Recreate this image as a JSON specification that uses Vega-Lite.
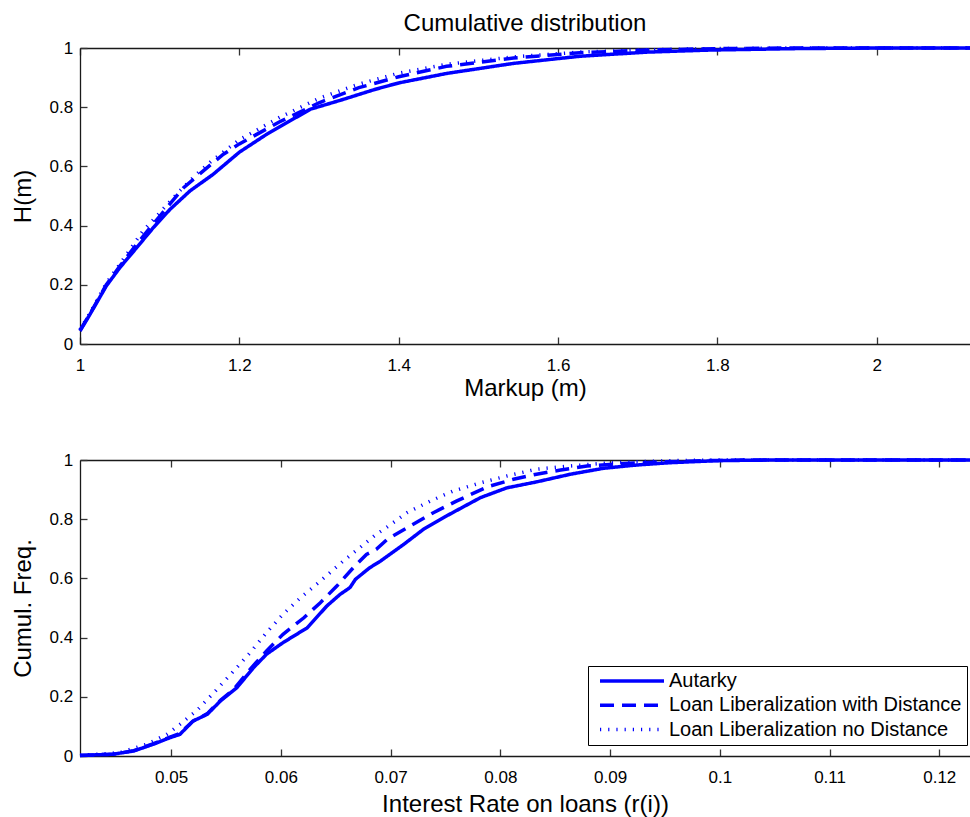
{
  "$schema": "https://vega.github.io/schema/vega-lite/v6.json",
  "autosize": {"type": "pad"},
  "padding": {"left": 11, "top": 12, "right": 0, "bottom": 2},
  "background": "white",
  "config": {
    "font": "Liberation Sans",
    "view": {"stroke": null},
    "axis": {
      "labelFont": "Liberation Sans", "labelFontSize": 17, "labelColor": "black",
      "titleFont": "Liberation Sans", "titleFontSize": 24, "titleFontWeight": "normal", "titleColor": "black",
      "domainColor": "#1a1a1a", "domainWidth": 1.3, "tickColor": "#333333", "tickWidth": 1.3, "tickSize": -7,
      "grid": false, "labelFlush": false, "labelOverlap": false
    },
    "axisX": {"labelPadding": 20, "titlePadding": 7},
    "axisY": {"labelPadding": 14.3, "titlePadding": 14},
    "legend": {"labelFont": "Liberation Sans"}
  },
  "datasets": {
    "top": [
      {"series": "Autarky", "x": 1.0, "y": 0.044},
      {"series": "Autarky", "x": 1.0125, "y": 0.100},
      {"series": "Autarky", "x": 1.033, "y": 0.196},
      {"series": "Autarky", "x": 1.05, "y": 0.258},
      {"series": "Autarky", "x": 1.071, "y": 0.325},
      {"series": "Autarky", "x": 1.092, "y": 0.393},
      {"series": "Autarky", "x": 1.113, "y": 0.455},
      {"series": "Autarky", "x": 1.138, "y": 0.517},
      {"series": "Autarky", "x": 1.167, "y": 0.573},
      {"series": "Autarky", "x": 1.2, "y": 0.648},
      {"series": "Autarky", "x": 1.234, "y": 0.708},
      {"series": "Autarky", "x": 1.289, "y": 0.793},
      {"series": "Autarky", "x": 1.33, "y": 0.826},
      {"series": "Autarky", "x": 1.37, "y": 0.860},
      {"series": "Autarky", "x": 1.4, "y": 0.882},
      {"series": "Autarky", "x": 1.46, "y": 0.914},
      {"series": "Autarky", "x": 1.544, "y": 0.948},
      {"series": "Autarky", "x": 1.627, "y": 0.972},
      {"series": "Autarky", "x": 1.711, "y": 0.986},
      {"series": "Autarky", "x": 1.79, "y": 0.993},
      {"series": "Autarky", "x": 1.9, "y": 0.998},
      {"series": "Autarky", "x": 2.0, "y": 1.0},
      {"series": "Autarky", "x": 2.117, "y": 1.0},
      {"series": "Loan Liberalization with Distance", "x": 1.0, "y": 0.046},
      {"series": "Loan Liberalization with Distance", "x": 1.0125, "y": 0.102},
      {"series": "Loan Liberalization with Distance", "x": 1.033, "y": 0.200},
      {"series": "Loan Liberalization with Distance", "x": 1.05, "y": 0.263},
      {"series": "Loan Liberalization with Distance", "x": 1.071, "y": 0.337},
      {"series": "Loan Liberalization with Distance", "x": 1.09, "y": 0.399},
      {"series": "Loan Liberalization with Distance", "x": 1.109, "y": 0.461},
      {"series": "Loan Liberalization with Distance", "x": 1.13, "y": 0.528},
      {"series": "Loan Liberalization with Distance", "x": 1.157, "y": 0.590},
      {"series": "Loan Liberalization with Distance", "x": 1.18, "y": 0.641},
      {"series": "Loan Liberalization with Distance", "x": 1.2, "y": 0.676},
      {"series": "Loan Liberalization with Distance", "x": 1.25, "y": 0.750},
      {"series": "Loan Liberalization with Distance", "x": 1.3, "y": 0.815},
      {"series": "Loan Liberalization with Distance", "x": 1.35, "y": 0.866},
      {"series": "Loan Liberalization with Distance", "x": 1.4, "y": 0.903},
      {"series": "Loan Liberalization with Distance", "x": 1.46, "y": 0.938},
      {"series": "Loan Liberalization with Distance", "x": 1.544, "y": 0.966},
      {"series": "Loan Liberalization with Distance", "x": 1.627, "y": 0.984},
      {"series": "Loan Liberalization with Distance", "x": 1.711, "y": 0.993},
      {"series": "Loan Liberalization with Distance", "x": 1.8, "y": 0.998},
      {"series": "Loan Liberalization with Distance", "x": 1.9, "y": 1.0},
      {"series": "Loan Liberalization with Distance", "x": 2.117, "y": 1.0},
      {"series": "Loan Liberalization no Distance", "x": 1.0, "y": 0.048},
      {"series": "Loan Liberalization no Distance", "x": 1.0125, "y": 0.105},
      {"series": "Loan Liberalization no Distance", "x": 1.033, "y": 0.205},
      {"series": "Loan Liberalization no Distance", "x": 1.05, "y": 0.270},
      {"series": "Loan Liberalization no Distance", "x": 1.079, "y": 0.382},
      {"series": "Loan Liberalization no Distance", "x": 1.102, "y": 0.449},
      {"series": "Loan Liberalization no Distance", "x": 1.125, "y": 0.517},
      {"series": "Loan Liberalization no Distance", "x": 1.146, "y": 0.573},
      {"series": "Loan Liberalization no Distance", "x": 1.165, "y": 0.618},
      {"series": "Loan Liberalization no Distance", "x": 1.2, "y": 0.690},
      {"series": "Loan Liberalization no Distance", "x": 1.25, "y": 0.765},
      {"series": "Loan Liberalization no Distance", "x": 1.3, "y": 0.830},
      {"series": "Loan Liberalization no Distance", "x": 1.35, "y": 0.878},
      {"series": "Loan Liberalization no Distance", "x": 1.4, "y": 0.915},
      {"series": "Loan Liberalization no Distance", "x": 1.46, "y": 0.945},
      {"series": "Loan Liberalization no Distance", "x": 1.544, "y": 0.970},
      {"series": "Loan Liberalization no Distance", "x": 1.627, "y": 0.986},
      {"series": "Loan Liberalization no Distance", "x": 1.711, "y": 0.994},
      {"series": "Loan Liberalization no Distance", "x": 1.8, "y": 0.998},
      {"series": "Loan Liberalization no Distance", "x": 1.9, "y": 1.0},
      {"series": "Loan Liberalization no Distance", "x": 2.117, "y": 1.0}
    ],
    "bottom": [
      {"series": "Autarky", "x": 0.0417, "y": 0.002},
      {"series": "Autarky", "x": 0.0447, "y": 0.006},
      {"series": "Autarky", "x": 0.0466, "y": 0.017},
      {"series": "Autarky", "x": 0.0484, "y": 0.040},
      {"series": "Autarky", "x": 0.0499, "y": 0.062},
      {"series": "Autarky", "x": 0.0508, "y": 0.073},
      {"series": "Autarky", "x": 0.0520, "y": 0.118},
      {"series": "Autarky", "x": 0.0533, "y": 0.141},
      {"series": "Autarky", "x": 0.0545, "y": 0.186},
      {"series": "Autarky", "x": 0.0560, "y": 0.231},
      {"series": "Autarky", "x": 0.0575, "y": 0.298},
      {"series": "Autarky", "x": 0.0587, "y": 0.344},
      {"series": "Autarky", "x": 0.0602, "y": 0.383},
      {"series": "Autarky", "x": 0.0624, "y": 0.433},
      {"series": "Autarky", "x": 0.0642, "y": 0.507},
      {"series": "Autarky", "x": 0.0654, "y": 0.546},
      {"series": "Autarky", "x": 0.0663, "y": 0.569},
      {"series": "Autarky", "x": 0.0668, "y": 0.597},
      {"series": "Autarky", "x": 0.0681, "y": 0.636},
      {"series": "Autarky", "x": 0.0691, "y": 0.659},
      {"series": "Autarky", "x": 0.0712, "y": 0.715},
      {"series": "Autarky", "x": 0.0730, "y": 0.766},
      {"series": "Autarky", "x": 0.0751, "y": 0.811},
      {"series": "Autarky", "x": 0.0782, "y": 0.873},
      {"series": "Autarky", "x": 0.0806, "y": 0.906},
      {"series": "Autarky", "x": 0.0833, "y": 0.926},
      {"series": "Autarky", "x": 0.0864, "y": 0.952},
      {"series": "Autarky", "x": 0.0894, "y": 0.972},
      {"series": "Autarky", "x": 0.0924, "y": 0.983},
      {"series": "Autarky", "x": 0.0955, "y": 0.991},
      {"series": "Autarky", "x": 0.1000, "y": 0.998},
      {"series": "Autarky", "x": 0.1050, "y": 1.0},
      {"series": "Autarky", "x": 0.1228, "y": 1.0},
      {"series": "Loan Liberalization with Distance", "x": 0.0417, "y": 0.002},
      {"series": "Loan Liberalization with Distance", "x": 0.0447, "y": 0.006},
      {"series": "Loan Liberalization with Distance", "x": 0.0466, "y": 0.018},
      {"series": "Loan Liberalization with Distance", "x": 0.0484, "y": 0.042},
      {"series": "Loan Liberalization with Distance", "x": 0.0499, "y": 0.064},
      {"series": "Loan Liberalization with Distance", "x": 0.0508, "y": 0.076},
      {"series": "Loan Liberalization with Distance", "x": 0.0520, "y": 0.118},
      {"series": "Loan Liberalization with Distance", "x": 0.0533, "y": 0.143},
      {"series": "Loan Liberalization with Distance", "x": 0.0545, "y": 0.188},
      {"series": "Loan Liberalization with Distance", "x": 0.0557, "y": 0.225},
      {"series": "Loan Liberalization with Distance", "x": 0.0572, "y": 0.293},
      {"series": "Loan Liberalization with Distance", "x": 0.0587, "y": 0.355},
      {"series": "Loan Liberalization with Distance", "x": 0.0602, "y": 0.411},
      {"series": "Loan Liberalization with Distance", "x": 0.0621, "y": 0.467},
      {"series": "Loan Liberalization with Distance", "x": 0.0636, "y": 0.518},
      {"series": "Loan Liberalization with Distance", "x": 0.0651, "y": 0.574},
      {"series": "Loan Liberalization with Distance", "x": 0.0666, "y": 0.636},
      {"series": "Loan Liberalization with Distance", "x": 0.0678, "y": 0.681},
      {"series": "Loan Liberalization with Distance", "x": 0.0687, "y": 0.698},
      {"series": "Loan Liberalization with Distance", "x": 0.0697, "y": 0.732},
      {"series": "Loan Liberalization with Distance", "x": 0.0718, "y": 0.777},
      {"series": "Loan Liberalization with Distance", "x": 0.0739, "y": 0.822},
      {"series": "Loan Liberalization with Distance", "x": 0.0760, "y": 0.861},
      {"series": "Loan Liberalization with Distance", "x": 0.0788, "y": 0.909},
      {"series": "Loan Liberalization with Distance", "x": 0.0812, "y": 0.935},
      {"series": "Loan Liberalization with Distance", "x": 0.0833, "y": 0.952},
      {"series": "Loan Liberalization with Distance", "x": 0.0855, "y": 0.966},
      {"series": "Loan Liberalization with Distance", "x": 0.0879, "y": 0.980},
      {"series": "Loan Liberalization with Distance", "x": 0.0918, "y": 0.989},
      {"series": "Loan Liberalization with Distance", "x": 0.0949, "y": 0.994},
      {"series": "Loan Liberalization with Distance", "x": 0.0990, "y": 0.998},
      {"series": "Loan Liberalization with Distance", "x": 0.1030, "y": 1.0},
      {"series": "Loan Liberalization with Distance", "x": 0.1228, "y": 1.0},
      {"series": "Loan Liberalization no Distance", "x": 0.0417, "y": 0.002},
      {"series": "Loan Liberalization no Distance", "x": 0.0453, "y": 0.011},
      {"series": "Loan Liberalization no Distance", "x": 0.0478, "y": 0.040},
      {"series": "Loan Liberalization no Distance", "x": 0.0496, "y": 0.073},
      {"series": "Loan Liberalization no Distance", "x": 0.0508, "y": 0.107},
      {"series": "Loan Liberalization no Distance", "x": 0.0523, "y": 0.152},
      {"series": "Loan Liberalization no Distance", "x": 0.0539, "y": 0.214},
      {"series": "Loan Liberalization no Distance", "x": 0.0557, "y": 0.287},
      {"series": "Loan Liberalization no Distance", "x": 0.0572, "y": 0.349},
      {"series": "Loan Liberalization no Distance", "x": 0.0587, "y": 0.417},
      {"series": "Loan Liberalization no Distance", "x": 0.0602, "y": 0.479},
      {"series": "Loan Liberalization no Distance", "x": 0.0618, "y": 0.535},
      {"series": "Loan Liberalization no Distance", "x": 0.0636, "y": 0.591},
      {"series": "Loan Liberalization no Distance", "x": 0.0657, "y": 0.659},
      {"series": "Loan Liberalization no Distance", "x": 0.0672, "y": 0.704},
      {"series": "Loan Liberalization no Distance", "x": 0.0687, "y": 0.749},
      {"series": "Loan Liberalization no Distance", "x": 0.0694, "y": 0.766},
      {"series": "Loan Liberalization no Distance", "x": 0.0715, "y": 0.822},
      {"series": "Loan Liberalization no Distance", "x": 0.0736, "y": 0.861},
      {"series": "Loan Liberalization no Distance", "x": 0.0757, "y": 0.895},
      {"series": "Loan Liberalization no Distance", "x": 0.0782, "y": 0.923},
      {"series": "Loan Liberalization no Distance", "x": 0.0806, "y": 0.946},
      {"series": "Loan Liberalization no Distance", "x": 0.0833, "y": 0.969},
      {"series": "Loan Liberalization no Distance", "x": 0.0864, "y": 0.980},
      {"series": "Loan Liberalization no Distance", "x": 0.0894, "y": 0.989},
      {"series": "Loan Liberalization no Distance", "x": 0.0924, "y": 0.994},
      {"series": "Loan Liberalization no Distance", "x": 0.0960, "y": 0.998},
      {"series": "Loan Liberalization no Distance", "x": 0.1000, "y": 1.0},
      {"series": "Loan Liberalization no Distance", "x": 0.1228, "y": 1.0}
    ]
  },
  "spacing": 116,
  "bounds": "flush",
  "resolve": {
    "scale": {"strokeDash": "independent"},
    "legend": {"strokeDash": "independent"}
  },
  "vconcat": [
    {
      "width": 890,
      "height": 296,
      "title": {"text": "Cumulative distribution", "font": "Liberation Sans", "fontSize": 24, "fontWeight": "normal", "color": "black", "offset": 3, "anchor": "middle"},
      "data": {"name": "top"},
      "layer": [
        {
          "mark": {"type": "line", "color": "#0000ff", "strokeWidth": 3.5, "strokeCap": "butt"},
          "encoding": {
            "x": {"field": "x", "type": "quantitative", "scale": {"domain": [1, 2.117], "nice": false, "zero": false},
                  "axis": {"title": "Markup (m)", "values": [1, 1.2, 1.4, 1.6, 1.8, 2], "format": "~g", "labelFontSize": 17, "titlePadding": 3}},
            "y": {"field": "y", "type": "quantitative", "scale": {"domain": [0, 1], "nice": false},
                  "axis": {"title": "H(m)", "values": [0, 0.2, 0.4, 0.6, 0.8, 1], "format": "~g", "labelFontSize": 17}},
            "strokeDash": {"field": "series", "type": "nominal",
                  "scale": {"domain": ["Autarky", "Loan Liberalization with Distance", "Loan Liberalization no Distance"], "range": [[1, 0], [14, 8], [1.2, 7]]},
                  "legend": null}
          }
        },
        {
          "mark": {"type": "rule", "opacity": 0},
          "encoding": {
            "x": {"field": "x", "type": "quantitative", "axis": {"orient": "top", "labels": false, "title": null, "values": [1, 1.2, 1.4, 1.6, 1.8, 2]}}
          }
        }
      ],
      "resolve": {"axis": {"x": "independent"}}
    },
    {
      "width": 890,
      "height": 296,
      "data": {"name": "bottom"},
      "layer": [
        {
          "mark": {"type": "line", "color": "#0000ff", "strokeWidth": 3.5, "strokeCap": "butt"},
          "encoding": {
            "x": {"field": "x", "type": "quantitative", "scale": {"domain": [0.0417, 0.1228], "nice": false, "zero": false},
                  "axis": {"title": "Interest Rate on loans (r(i))", "values": [0.05, 0.06, 0.07, 0.08, 0.09, 0.1, 0.11, 0.12], "format": "~g", "labelFontSize": 17}},
            "y": {"field": "y", "type": "quantitative", "scale": {"domain": [0, 1], "nice": false},
                  "axis": {"title": "Cumul. Freq.", "values": [0, 0.2, 0.4, 0.6, 0.8, 1], "format": "~g", "labelFontSize": 17}},
            "strokeDash": {"field": "series", "type": "nominal",
                  "scale": {"domain": ["Autarky", "Loan Liberalization with Distance", "Loan Liberalization no Distance"], "range": [[1, 0], [14, 8], [1.2, 7]]},
                  "legend": {"orient": "none", "legendX": 508, "legendY": 206, "title": null,
                             "symbolType": "stroke", "symbolSize": 4100, "symbolStrokeColor": "#0000ff", "symbolStrokeWidth": 3.5,
                             "labelFontSize": 20, "labelColor": "black", "labelLimit": 0,
                             "strokeColor": "black", "fillColor": "white", "padding": 5,
                             "symbolOffset": 5, "labelOffset": 3, "rowPadding": 4.3, "clipHeight": 20}}
          }
        },
        {
          "mark": {"type": "rule", "opacity": 0},
          "encoding": {
            "x": {"field": "x", "type": "quantitative", "axis": {"orient": "top", "labels": false, "title": null, "values": [0.05, 0.06, 0.07, 0.08, 0.09, 0.1, 0.11, 0.12]}}
          }
        }
      ],
      "resolve": {"axis": {"x": "independent"}}
    }
  ]
}
